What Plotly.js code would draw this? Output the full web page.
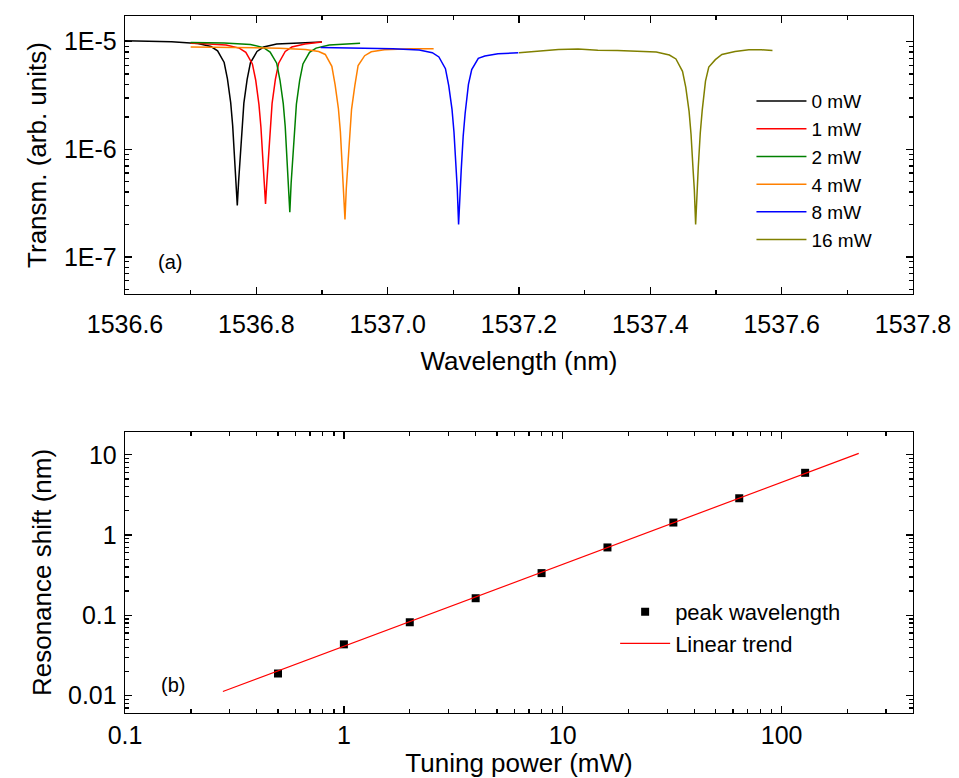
<!DOCTYPE html>
<html>
<head>
<meta charset="utf-8">
<script src="https://cdn.plot.ly/plotly-3.0.1.min.js"></script>
<style>html,body{margin:0;padding:0;background:#fff;}</style>
</head>
<body>
<div id="chart" style="width:959px;height:778px;"></div>
<script>
// ---------- Panel (a): transmission spectra ----------
const names = ['0 mW', '1 mW', '2 mW', '4 mW', '8 mW', '16 mW'];
const colors = ['#000000', '#ff0000', '#008000', '#ff8000', '#0000ff', '#808000'];

const wl0 = [1536.600, 1536.640, 1536.671, 1536.711, 1536.731, 1536.741, 1536.751, 1536.756, 1536.761, 1536.764, 1536.767, 1536.769, 1536.771, 1536.773, 1536.775, 1536.778, 1536.781, 1536.786, 1536.791, 1536.801, 1536.811, 1536.831, 1536.871, 1536.900];
const tr0 = [1.02e-5, 1.01e-5, 9.95e-6, 9.6e-6, 9.0e-6, 8.2e-6, 6.4e-6, 4.5e-6, 2.7e-6, 1.65e-6, 8.0e-7, 5.0e-7, 3.0e-7, 5.0e-7, 8.0e-7, 1.64e-6, 2.68e-6, 4.46e-6, 6.35e-6, 8.1e-6, 8.9e-6, 9.5e-6, 9.8e-6, 9.9e-6];

const wl1 = [1536.700, 1536.714, 1536.754, 1536.774, 1536.784, 1536.794, 1536.799, 1536.804, 1536.807, 1536.810, 1536.812, 1536.814, 1536.816, 1536.818, 1536.821, 1536.824, 1536.829, 1536.834, 1536.844, 1536.854, 1536.874, 1536.900];
const tr1 = [9.65e-6, 9.6e-6, 9.3e-6, 8.7e-6, 7.95e-6, 6.2e-6, 4.4e-6, 2.6e-6, 1.6e-6, 7.8e-7, 4.9e-7, 3.1e-7, 4.95e-7, 7.9e-7, 1.63e-6, 2.67e-6, 4.45e-6, 6.3e-6, 8.1e-6, 8.9e-6, 9.5e-6, 9.9e-6];

const wl2 = [1536.700, 1536.751, 1536.791, 1536.811, 1536.821, 1536.831, 1536.836, 1536.841, 1536.844, 1536.847, 1536.849, 1536.851, 1536.853, 1536.855, 1536.858, 1536.861, 1536.866, 1536.871, 1536.881, 1536.891, 1536.911, 1536.958];
const tr2 = [9.8e-6, 9.7e-6, 9.4e-6, 8.8e-6, 8.0e-6, 6.3e-6, 4.4e-6, 2.65e-6, 1.62e-6, 7.8e-7, 4.9e-7, 2.6e-7, 4.85e-7, 7.8e-7, 1.6e-6, 2.62e-6, 4.37e-6, 6.2e-6, 7.95e-6, 8.7e-6, 9.3e-6, 9.65e-6];

const wl4 = [1536.700, 1536.780, 1536.835, 1536.875, 1536.895, 1536.905, 1536.915, 1536.920, 1536.925, 1536.928, 1536.931, 1536.933, 1536.935, 1536.937, 1536.939, 1536.942, 1536.945, 1536.950, 1536.955, 1536.965, 1536.975, 1536.995, 1537.035, 1537.070];
const tr4 = [8.9e-6, 8.8e-6, 8.7e-6, 8.45e-6, 8.1e-6, 7.6e-6, 5.9e-6, 3.96e-6, 2.38e-6, 1.45e-6, 7.0e-7, 4.4e-7, 2.23e-7, 4.35e-7, 7.0e-7, 1.44e-6, 2.35e-6, 3.9e-6, 6.0e-6, 7.4e-6, 8.05e-6, 8.4e-6, 8.6e-6, 8.6e-6];

const wl8 = [1536.898, 1536.950, 1537.008, 1537.048, 1537.068, 1537.078, 1537.088, 1537.093, 1537.098, 1537.101, 1537.104, 1537.106, 1537.108, 1537.110, 1537.112, 1537.115, 1537.118, 1537.123, 1537.128, 1537.138, 1537.148, 1537.168, 1537.199];
const tr8 = [8.8e-6, 8.75e-6, 8.6e-6, 8.35e-6, 7.9e-6, 7.2e-6, 5.6e-6, 3.9e-6, 2.35e-6, 1.44e-6, 7.0e-7, 4.3e-7, 2.0e-7, 4.0e-7, 6.4e-7, 1.32e-6, 2.16e-6, 4.0e-6, 5.5e-6, 7.0e-6, 7.35e-6, 7.7e-6, 7.9e-6];

const wl16 = [1537.200, 1537.230, 1537.260, 1537.290, 1537.320, 1537.350, 1537.369, 1537.409, 1537.429, 1537.439, 1537.449, 1537.454, 1537.459, 1537.462, 1537.465, 1537.467, 1537.469, 1537.471, 1537.473, 1537.476, 1537.479, 1537.484, 1537.489, 1537.499, 1537.509, 1537.529, 1537.550, 1537.569, 1537.586];
const tr16 = [7.9e-6, 8.2e-6, 8.45e-6, 8.55e-6, 8.3e-6, 8.25e-6, 8.2e-6, 8.0e-6, 7.5e-6, 6.9e-6, 5.3e-6, 3.75e-6, 2.25e-6, 1.37e-6, 6.6e-7, 4.2e-7, 2.0e-7, 4.2e-7, 6.8e-7, 1.4e-6, 2.3e-6, 4.3e-6, 5.8e-6, 6.8e-6, 7.6e-6, 8.1e-6, 8.4e-6, 8.4e-6, 8.25e-6];

const wlSets = [wl0, wl1, wl2, wl4, wl8, wl16];
const trSets = [tr0, tr1, tr2, tr4, tr8, tr16];

const topYTicks = [1e-7, 1e-6, 1e-5];
const topYLabels = ['1E-7', '1E-6', '1E-5'];

// ---------- Panel (b): resonance shift vs tuning power ----------
const power = [0.5, 1, 2, 4, 8, 16, 32, 64, 128];
const shift = [0.0188, 0.0434, 0.0818, 0.163, 0.335, 0.70, 1.43, 2.87, 5.96];
const trendPower = [0.28, 225];
const trendShift = [0.0112, 10.4];

const botXTicks = [0.1, 1, 10, 100];
const botXLabels = ['0.1', '1', '10', '100'];
const botYTicks = [0.01, 0.1, 1, 10];
const botYLabels = ['0.01', '0.1', '1', '10'];

function logMinor(lo, hi) {
  const out = [];
  for (let e = lo; e <= hi; e++) {
    for (let m = 2; m <= 9; m++) out.push(m * Math.pow(10, e));
  }
  return out;
}

const FONT = 'Arial, "Liberation Sans", sans-serif';

const traces = [];
for (let i = 0; i < names.length; i++) {
  traces.push({
    type: 'scatter', mode: 'lines',
    x: wlSets[i], y: trSets[i],
    name: names[i],
    line: {color: colors[i], width: 1.5},
    xaxis: 'x', yaxis: 'y',
    legend: 'legend'
  });
}
traces.push({
  type: 'scatter', mode: 'markers',
  x: power, y: shift, name: 'peak wavelength',
  marker: {symbol: 'square', size: 8, color: '#000'},
  xaxis: 'x2', yaxis: 'y2', legend: 'legend2'
});
traces.push({
  type: 'scatter', mode: 'lines',
  x: trendPower, y: trendShift, name: 'Linear trend',
  line: {color: '#ff0000', width: 1.2},
  xaxis: 'x2', yaxis: 'y2', legend: 'legend2'
});

const axCommon = {
  showline: true, linecolor: '#000', linewidth: 1.3,
  mirror: 'allticks', ticks: 'inside', ticklen: 7, tickwidth: 1.3, tickcolor: '#000',
  showgrid: false, zeroline: false,
  tickfont: {family: FONT, size: 25, color: '#000'}
};
const TITLEFONT = {family: FONT, size: 26, color: '#000'};

const layout = {
  width: 959, height: 778,
  margin: {l: 125, r: 46, t: 16, b: 65},
  paper_bgcolor: '#fff', plot_bgcolor: '#fff',
  font: {family: FONT, color: '#000'},
  showlegend: true,
  xaxis: Object.assign({}, axCommon, {
    domain: [0, 1], anchor: 'y', range: [1536.6, 1537.8],
    tick0: 1536.6, dtick: 0.2, tickformat: '.1f',
    ticklabelstandoff: 8,
    minor: {ticks: 'inside', ticklen: 4, tickwidth: 1.3, tickcolor: '#000', dtick: 0.1},
    title: {text: 'Wavelength (nm)', font: TITLEFONT, standoff: 14}
  }),
  yaxis: Object.assign({}, axCommon, {
    domain: [0.6011, 1], anchor: 'x', type: 'log', range: [-7.345, -4.762],
    tickmode: 'array', tickvals: topYTicks, ticktext: topYLabels,
    ticklabelstandoff: 2,
    minor: {ticks: 'inside', ticklen: 4, tickwidth: 1.3, tickcolor: '#000', tickmode: 'array', tickvals: logMinor(-8, -5)},
    title: {text: 'Transm. (arb. units)', font: TITLEFONT, standoff: 9}
  }),
  xaxis2: Object.assign({}, axCommon, {
    domain: [0, 1], anchor: 'y2', type: 'log', range: [-1, 2.6],
    tickmode: 'array', tickvals: botXTicks, ticktext: botXLabels,
    minor: {ticks: 'inside', ticklen: 4, tickwidth: 1.3, tickcolor: '#000', tickmode: 'array', tickvals: logMinor(-1, 2)},
    title: {text: 'Tuning power (mW)', font: TITLEFONT, standoff: 0}
  }),
  yaxis2: Object.assign({}, axCommon, {
    domain: [0, 0.4032], anchor: 'x2', type: 'log', range: [-2.218, 1.284],
    tickmode: 'array', tickvals: botYTicks, ticktext: botYLabels,
    ticklabelstandoff: 2,
    minor: {ticks: 'inside', ticklen: 4, tickwidth: 1.3, tickcolor: '#000', tickmode: 'array', tickvals: logMinor(-3, 1)},
    title: {text: 'Resonance shift (nm)', font: TITLEFONT, standoff: 9}
  }),
  legend: {
    x: 0.795, y: 0.905, xanchor: 'left', yanchor: 'top',
    bgcolor: 'rgba(0,0,0,0)', borderwidth: 0,
    font: {family: FONT, size: 19, color: '#000'},
    itemwidth: 50, tracegroupgap: 0
  },
  legend2: {
    x: 0.622, y: 0.175, xanchor: 'left', yanchor: 'top',
    bgcolor: 'rgba(0,0,0,0)', borderwidth: 0,
    font: {family: FONT, size: 22, color: '#000'},
    itemwidth: 50, tracegroupgap: 0
  },
  annotations: [
    {text: '(a)', xref: 'x domain', yref: 'y domain', x: 0.057, y: 0.115, showarrow: false,
     xanchor: 'center', yanchor: 'middle', font: {family: FONT, size: 20, color: '#000'}},
    {text: '(b)', xref: 'x2 domain', yref: 'y2 domain', x: 0.061, y: 0.0996, showarrow: false,
     xanchor: 'center', yanchor: 'middle', font: {family: FONT, size: 20, color: '#000'}}
  ]
};

Plotly.newPlot('chart', traces, layout, {displayModeBar: false, staticPlot: true});
</script>
</body>
</html>
